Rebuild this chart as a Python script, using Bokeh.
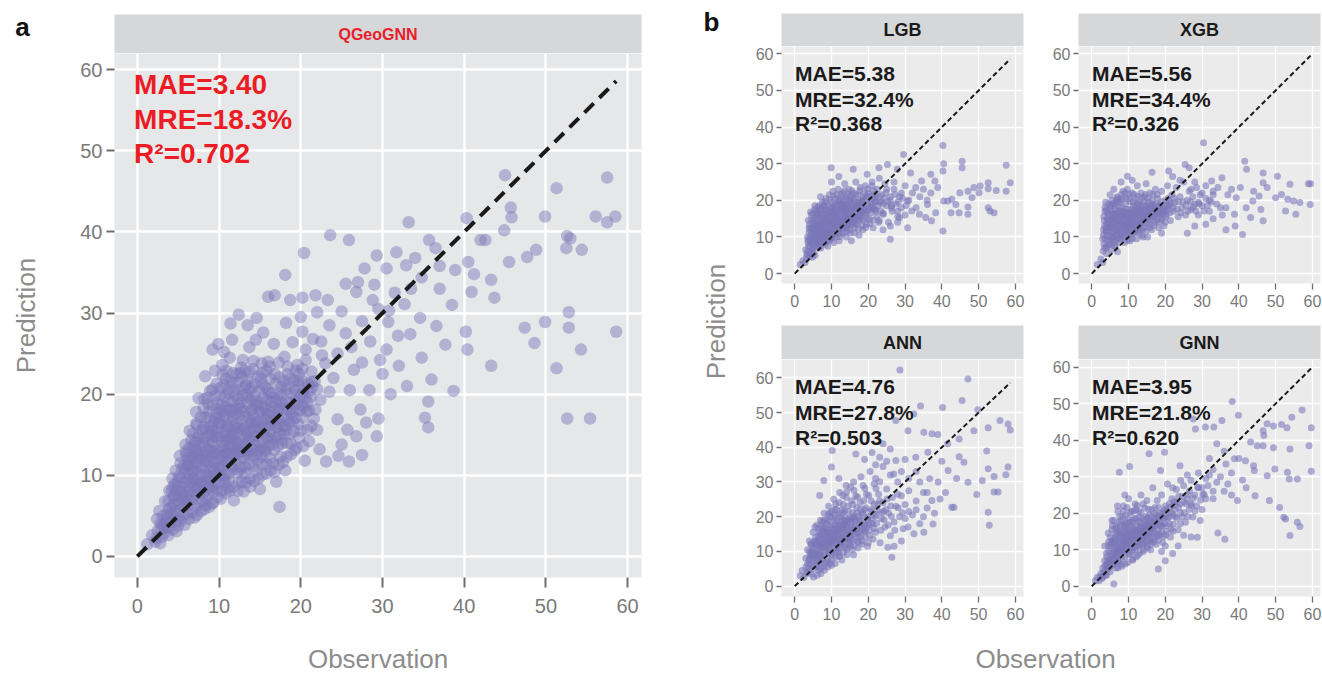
from bokeh.plotting import figure
from bokeh.layouts import row, column
from bokeh.models import Range1d
from bokeh.core.properties import value
from bokeh.embed import file_html
from bokeh.resources import INLINE
import math

# ---------------- data ----------------
models = ["QGeoGNN", "LGB", "XGB", "ANN", "GNN"]
mae = ["3.40", "5.38", "5.56", "4.76", "3.95"]
mre = ["18.3%", "32.4%", "34.4%", "27.8%", "21.8%"]
r2 = ["0.702", "0.368", "0.326", "0.503", "0.620"]
tick_values = [0, 10, 20, 30, 40, 50, 60]

# (observation, prediction) pairs
qgeo_core = [
    (1.2,1.5),(1.8,2.6),(2.2,1.8),(2.5,3.2),(3,2.4),(2.8,4.1),(3.4,3.5),(3.6,5.2),
    (3.8,6.8),(4.2,4.4),(4.5,7.5),(4.6,5.6),(4.9,9.2),(5,3.8),(5.2,6.4),(5.3,11.5),(4.4,8.6),(3.9,5.9),
    (5.6,8),(5.8,10.3),(6,12.6),(6.1,5.2),(6.3,7),(6.5,9.1),(6.6,14.3),(6.8,11),(7,4.8),(7.1,6.2),(7.2,16.4),(5.9,13.8),(6.4,15.5),
    (7.4,8.4),(7.6,12.2),(7.8,10),(8,14.1),(8.1,18.3),(8.2,5.8),(8.4,7.2),(8.5,9.3),(8.6,11.6),(8.8,16),(8.9,20.4),(9,13),(9.1,6.5),(7.5,19.5),(8.3,22.2),
    (9.3,8),(9.4,10.6),(9.6,14.8),(9.7,17.7),(9.8,12),(10,9),(10.1,19.8),(10.2,7.1),(10.3,15.9),(10.5,11.1),(10.6,13.6),(10.8,21.9),(11,17),(11,8.4),(10.4,23.6),(9.5,22.9),
    (11.2,10.2),(11.4,12.8),(11.5,15),(11.6,19),(11.8,6.9),(12,11.8),(12.1,14.1),(12.2,22.5),(12.4,9.1),(12.5,17.4),(12.6,20.6),(12.8,13),(13,8),(13,15.9),(11.3,24.5),(12.9,24.2),
    (13.2,11),(13.4,18.8),(13.5,21.8),(13.6,14.2),(13.8,9.6),(14,16.6),(14.1,12.4),(14.2,23.1),(14.4,19.9),(14.6,10.6),(14.7,14.9),(14.9,17.8),(15,8.3),(13.7,25.8),(14.5,26.7),
    (15.2,12.3),(15.3,21.2),(15.5,15.1),(15.6,18.4),(15.8,10.2),(16,24),(16.1,13.6),(16.3,16.6),(16.4,20.1),(16.6,11.5),(16.8,22.5),(17,14.7),(17,9.2),(15.4,27.6),(16.7,26.2),
    (17.3,18.2),(17.5,12.3),(17.6,20.9),(17.8,16),(18,24.6),(18.1,10.6),(18.3,14),(18.4,22.5),(18.6,18.9),(18.8,12.6),(19,16.6),(19,26.4),(17.4,6.1),
    (19.3,20.5),(19.5,13.4),(19.6,23.6),(19.8,18),(20,15.5),(20.2,21.7),(20.5,11.8),(20.6,25.5),(20.8,19),(21,14.2),(21.3,22.8),(21.6,17),(22,20.6),(22.3,13.2),(22.6,24.8),
    (5.5,7),(6.9,8.9),(7.9,6.9),(8.7,8.5),(9.9,11),(10.9,12.9),(11.9,16),(12.7,11),(13.3,13.9),(14.3,15.9),(9.2,15.5),(10,17.2),(11.1,20.5),(7,10.5),
    (6.2,11.3),(8.2,12.8),(9.5,8.8),(10.7,10),(12.3,15.2),(13.9,18),(15.9,19.3),(17.2,17),
]
qgeo_core_dense = [
    (2.3,2.2),(2.4,4.6),(2.8,1.6),(2.9,3.4),(2.7,5.6),(3.3,2.9),(3.2,5),(3.4,6.8),(3.8,2.6),(3.7,4.7),(3.9,8.1),
    (4.3,3.3),(4.2,6.1),(4.4,7.4),(4.3,9.6),(4.8,3.1),(4.7,4.9),(4.9,6.9),(4.8,8.2),(4.7,10.6),
    (5.3,4.4),(5.2,5.6),(5.4,7.8),(5.3,9.7),(5.2,12.4),(5.8,3.9),(5.7,6.1),(5.9,7.4),(5.8,9.1),(5.7,11.2),(5.9,12.9),
    (6.3,4.6),(6.2,6.3),(6.4,8.2),(6.3,10.1),(6.2,12.1),(6.4,13.4),(6.8,5.4),(6.7,6.9),(6.9,8.1),(6.8,9.6),(6.7,12.4),(6.9,13.6),(6.8,15.1),
    (7.3,5.1),(7.2,7.6),(7.4,9.3),(7.3,10.9),(7.2,13.1),(7.4,14.6),(7.3,16.2),(7.2,17.8),(7.8,5.6),(7.7,7.9),(7.9,8.8),(7.8,11.1),(7.7,13.4),(7.9,15.6),(7.8,17.2),
    (8.3,6.3),(8.2,8.6),(8.4,10.1),(8.3,11.9),(8.2,14.6),(8.4,15.6),(8.3,17.1),(8.2,19.4),(8.8,6.1),(8.7,7.6),(8.9,9.4),(8.8,12.3),(8.7,14.1),(8.9,15.1),(8.8,17.9),(8.7,18.8),
    (9.3,6.6),(9.2,9.6),(9.4,11.6),(9.3,13.6),(9.2,14.2),(9.4,16.6),(9.3,18.6),(9.2,20.6),(9.8,7.3),(9.7,8.3),(9.9,9.9),(9.8,13.1),(9.7,15.3),(9.9,16.4),(9.8,18.9),(9.7,21.3),
    (10.3,8.1),(10.2,10.3),(10.4,12.4),(10.3,13.1),(10.2,14.8),(10.4,17.9),(10.3,18.6),(10.2,20.8),(10.4,22.4),
    (10.8,7.8),(10.7,9.1),(10.9,11.6),(10.8,14.3),(10.7,15.4),(10.9,16.1),(10.8,18.4),(10.7,19.7),(10.9,22.9),
    (11.3,8.1),(11.2,9.3),(11.4,11.3),(11.3,13.6),(11.2,14.1),(11.4,16.6),(11.3,18.1),(11.2,20.1),(11.4,21.6),
    (11.8,8.6),(11.7,10.7),(11.9,12.6),(11.8,14.9),(11.7,17.3),(11.9,18.1),(11.8,20.3),(11.7,22.6),
    (12.3,8.1),(12.2,10.3),(12.4,12.9),(12.3,13.9),(12.2,16.3),(12.4,18.6),(12.3,19.4),(12.2,21.4),
    (12.8,9.2),(12.7,12.1),(12.9,14.4),(12.8,16.7),(12.7,18.2),(12.9,19.9),(12.8,22.1),(12.7,23.3),
    (13.3,9.1),(13.2,10.2),(13.4,12.6),(13.3,15.1),(13.2,17.3),(13.4,19.9),(13.3,21.1),(13.2,22.9),
    (13.8,8.6),(13.7,11.4),(13.9,13.2),(13.8,15.6),(13.7,16.9),(13.9,19.3),(13.8,20.6),(13.7,22.7),
    (14.3,9.3),(14.2,11.1),(14.4,13.6),(14.3,14.9),(14.2,17.4),(14.4,18.7),(14.3,21.3),(14.2,24.1),
    (14.8,9.6),(14.7,11.9),(14.9,13.1),(14.8,15.9),(14.7,18.6),(14.9,20.4),(14.8,22.2),
    (15.3,10.1),(15.2,11.4),(15.4,13.4),(15.3,16.3),(15.2,17.6),(15.4,19.6),(15.3,22.6),(15.2,23.8),
    (15.8,11.4),(15.7,12.9),(15.9,14.6),(15.8,16.9),(15.7,18.1),(15.9,20.6),(15.8,22.9),
    (16.3,10.6),(16.2,12.1),(16.4,14.4),(16.3,15.3),(16.2,17.9),(16.4,19.1),(16.3,21.9),(16.2,23.4),
    (16.8,10.4),(16.7,13.1),(16.9,15.9),(16.8,17.4),(16.7,19.6),(16.9,21.3),
    (17.3,11.3),(17.2,13.6),(17.4,15.1),(17.3,16.4),(17.2,19.4),(17.4,22.1),(17.3,23.9),
    (17.8,11.6),(17.7,13.9),(17.9,15.1),(17.8,18.3),(17.7,19.9),(17.9,21.6),
    (18.3,12.3),(18.2,15.6),(18.4,16.9),(18.3,18.1),(18.2,20.6),(18.4,23.4),(18.8,13.9),(18.7,15.1),(18.9,17.6),(18.8,20.1),(18.7,21.9),
    (19.3,13.1),(19.2,15.4),(19.4,17.1),(19.3,19.1),(19.2,21.6),(19.4,22.9),(19.8,14.6),(19.7,16.3),(19.9,19.6),(19.8,21.1),
    (20.3,13.6),(20.2,17.1),(20.4,18.4),(20.3,20.4),(20.2,23.1),(20.8,15.6),(20.7,17.9),(20.9,21.3),
    (21.3,16.1),(21.2,19.6),(21.4,20.9),(21.8,18.1),(21.7,21.6),
]
qgeo_core_dense2 = [
    (3.1,3.9),(3.5,4.4),(3.9,3.6),(4.1,5.3),(4.5,6.4),(4.6,8.9),(4.9,4.4),(5.1,7.4),(5.3,8.6),(5.5,10.8),(5.6,5.1),(5.9,6.6),
    (6.1,8.6),(6.2,9.6),(6.4,11.8),(6.6,7.6),(6.7,10.4),(6.9,12.1),(7.1,9.6),(7.2,11.6),(7.4,12.6),(7.1,14.1),(7.6,6.6),(7.7,9.1),
    (7.9,11.9),(7.6,14.9),(8.1,7.9),(8.2,10.6),(8.4,12.4),(8.1,15.9),(8.6,9.9),(8.7,13.1),(8.9,10.9),(8.6,17.1),(9.1,8.6),(9.2,11.1),
    (9.4,12.9),(9.1,14.9),(9.6,10.1),(9.7,12.6),(9.9,14.6),(9.6,17.1),(10.1,10.6),(10.2,11.9),(10.4,14.1),(10.1,16.4),(10.6,9.6),
    (10.7,12.6),(10.9,14.9),(10.6,17.4),(11.1,11.6),(11.2,12.6),(11.4,14.6),(11.1,15.9),(11.6,11.1),(11.7,13.6),(11.9,15.4),(11.6,17.9),
    (12.1,12.6),(12.2,13.4),(12.4,15.9),(12.1,17.6),(12.6,10.6),(12.7,13.9),(12.9,15.6),(12.6,18.9),(13.1,12.1),(13.2,13.1),(13.4,15.4),
    (13.1,17.9),(13.6,12.9),(13.7,14.6),(13.9,16.4),(13.6,19.6),(14.1,13.1),(14.2,14.6),(14.4,16.4),(14.1,18.1),(14.6,12.6),(14.7,16.6),
    (14.9,14.1),(14.6,19.1),(15.1,13.6),(15.2,15.6),(15.4,17.1),(15.1,18.9),(15.6,13.1),(15.7,15.9),(15.9,17.6),(15.6,20.9),(16.1,14.6),
    (16.2,16.1),(16.4,18.4),(16.1,20.1),(16.6,13.9),(16.7,16.9),(16.9,18.9),(17.1,15.9),(17.2,17.9),(17.4,20.1),(17.6,14.4),(17.7,18.9),
    (17.9,17.1),(18.1,16.1),(18.2,19.1),(18.4,21.1),(18.6,16.6),(18.7,18.1),(19.1,17.9),(19.2,19.9),(19.6,18.9),(19.7,21.6),(20.1,18.6),
    (20.2,20.1),(20.6,19.6),(21.1,20.4),(4.2,8.1),(5.1,9.9),(6.1,11.1),(7.1,13.1),(8.1,13.6),(9.1,16.1),(10.1,18.1),(11.1,19.1),
    (12.1,19.9),(13.1,20.9),(14.1,20.9),(15.1,21.9),(9.6,19.9),(8.6,19.6),(10.6,21.1),(11.6,21.4),(12.6,22.6),
]
qgeo_outer = [
    (45.0,47.0),(51.3,45.4),(57.5,46.7),(45.7,43.0),(49.9,41.9),(45.8,41.8),(56.1,41.9),(58.5,41.9),(57.5,41.2),(52.6,39.5),
    (53.0,39.2),(44.9,40.2),(40.3,41.7),(42.0,39.0),(42.6,39.0),(35.7,39.0),(33.2,41.2),(23.6,39.6),(25.9,39.0),(47.7,36.9),
    (48.8,37.8),(52.5,38.0),(54.4,37.8),(45.5,36.3),(43.3,34.1),(40.9,32.6),(43.7,31.9),(38.9,35.3),(40.5,36.3),(47.4,28.2),
    (48.6,26.3),(49.9,28.9),(52.8,30.1),(52.8,28.2),(54.3,25.5),(51.3,23.2),(43.3,23.5),(40.4,25.5),(40.2,27.7),(38.7,20.4),
    (52.6,17.0),(55.4,17.0),(58.6,27.7),(35.6,19.1),(35.6,15.9),(35.2,17.1),(36.0,21.8),(34.8,24.5),(37.7,26.1),(36.6,28.4),
    (34.6,29.4),(32.7,31.1),(32.9,35.9),(31.7,37.5),(30.5,35.5),(29.3,37.1),(27.8,35.5),(25.5,33.6),(26.8,32.6),(28.8,31.6),
    (30.7,28.9),(31.9,27.2),(33.4,27.4),(29.7,24.2),(28.4,20.5),(27.3,18.1),(25.7,15.6),(25.0,13.8),(24.6,12.4),(23.1,11.7),
    (25.9,11.7),(27.5,12.5),(29.3,14.8),(26.8,14.8),(24.5,16.9),(22.4,19.3),(21.3,21.5),(20.6,24.2),(20.2,27.7),(20.0,29.5),
    (20.4,37.4),(18.1,34.7),(16.8,32.2),(16.0,32.0),(14.6,29.4),(13.5,28.5),(12.4,29.8),(11.4,28.7),(9.9,26.2),(9.2,25.5),
    (11.6,26.7),(10.6,25.2),(18.7,31.6),(21.8,32.2),(23.3,31.6),(22.0,30.1),(18.2,28.8),(20.2,31.9),
    (22.5,26.5),(23.5,28.5),(24.5,25),(25.5,27.5),(26.5,23),(27.5,29),(28.5,26.5),(29.5,30.5),(30.5,25.5),(31.5,32.5),
    (24,22),(26,20.5),(23,23.8),(21.5,26.8),(25,30.2),(27,33.8),(29,33.5),(30,22.5),(32,23.5),(33.5,33),(34,36.8),(37,33),
    (38.5,31),(36.5,38),(31,20),(29.5,17),(28,16.5),(33,21),(34.8,34.4),(21,18),(22,15.6),(23.5,20.3),(19.8,22.5),(37,35.8),
    (27.5,23.9),(26.2,25.8),(30.8,30.3),(41.2,34.8),
]

lgb_core = [
    (1.5,2.5),(2.2,3.5),(2.8,3),(3.2,4.5),(3.5,6),(3.8,7.5),(4,5),(4.3,8.5),(4.5,10.5),(4.6,12.5),(4.8,6.5),(5,14),(5,16.5),
    (5.2,9),(5.4,11.5),(5.5,7.5),(5.7,13),(5.8,17),(6,10),(6.1,15),(6.3,8.5),(6.4,12),(6.6,18.5),(6.8,14),(6.9,10.8),(7,16),
    (7.1,7),(7.3,12.8),(7.5,19.5),(7.6,9.5),(7.8,15),(7.9,11.5),(8,17.5),(8.2,13.5),(8.3,8),(8.5,20.5),(8.6,16),(8.8,10.5),
    (9,14.5),(9,18.5),(9.2,12),(9.4,21.5),(9.5,9),(9.7,16.8),(9.8,13.5),(10,19.5),(10.1,11),(10.3,15.5),(10.4,22.5),(10.6,8.5),
    (10.7,17.8),(10.9,13),(11,20.5),(11.2,10),(11.4,15),(11.5,18.5),(11.7,12),(11.8,23),(12,16.5),(12.1,9),(12.3,20),(12.5,13.5),
    (12.6,17.5),(12.8,11),(13,22),(13.1,15),(13.3,19),(13.5,12.5),(13.6,24.5),(13.8,17),(14,10),(14.1,21),(14.3,14),(14.5,18),
    (14.7,23),(14.9,12),(15,16),(15.2,20),(15.4,9),(15.6,14),(15.8,18.5),(16,22),(16.2,12.5),(16.4,16),(16.6,25),(16.8,19.5),
    (17,13.5),(17.2,21.5),(17.5,10.5),(17.6,17),(17.8,23.5),(18,15),(18.3,19),(18.5,12),(18.7,21),(19,16.5),(19.2,24),(19.5,13.5),
    (19.7,19),(20,22),(20.3,15),(20.6,18),(21,25),(21.3,12.5),(21.5,20.5),(22,17),(22.4,23),(22.8,14),(23.2,19.5),(23.6,21.5),
    (24,16.5),(24.5,24.5),(25,18.5),(25.5,14),(26,21),(26.5,17),(27,23),(27.5,19),(28,15.5),(28.5,21),(29,18),
    (4,9.5),(5,12),(6,13),(6.5,9.5),(7,11),(7.5,13.5),(8,9.5),(8.5,12.5),(9,15.8),(9.5,11),(10,14),(10.5,17),(11,12),(11.5,14),
    (12,15),(12.5,19),(13,13),(13.5,16),(14,12.5),(15,14.5),(15.5,17),(16,15),(17,18),(18,17),(3.5,10),(4,13.5),(4.5,16),(6,7.5),
    (7,8),(9,7.5),(5.5,5),(4.8,4.5),(3,6.5),(10,10),(11,16.5),(12,11),(13,18),(14,16),(8,11),(9,10),(6.5,16.5),(5.5,18.5),(7,21),
    (10,25),(12,26.5),
    (3.3,5.2),(3.6,8.4),(3.9,11.2),(3.7,14.6),(4.2,6.2),(4.4,9.2),(4.1,12.1),(4.6,14.6),(4.3,16.8),
    (5.1,7.1),(5.3,10.2),(5.6,12.1),(5.2,15.1),(5.4,17.6),(5.9,8.3),(5.7,10.9),(6.2,13.6),(5.9,15.9),(6.3,18.1),
    (6.7,7.3),(6.6,11.2),(6.9,12.9),(6.8,15.6),(7.2,17.3),(7.4,9.1),(7.6,12.1),(7.3,14.3),(7.7,16.6),(7.9,18.6),
    (8.1,8.6),(8.3,10.9),(8.6,13.9),(8.4,15.1),(8.8,17.3),(8.2,19.6),(9.1,9.1),(9.3,11.6),(9.6,14.1),(9.2,16.1),(9.8,18.1),(9.5,20.1),
    (10.2,9.6),(10.4,12.6),(10.7,14.6),(10.3,16.6),(10.8,18.6),(10.5,21.1),(11.1,10.9),(11.4,13.1),(11.6,15.6),(11.2,17.6),(11.8,19.6),(11.5,21.6),
    (12.2,10.1),(12.4,12.6),(12.7,14.6),(12.3,17.1),(12.8,18.6),(12.5,21.6),(13.2,11.1),(13.4,14.1),(13.7,15.6),(13.3,17.6),(13.8,20.1),(13.5,22.6),
    (14.2,11.6),(14.4,13.1),(14.7,15.1),(14.3,17.1),(14.8,19.6),(14.5,21.6),(15.1,11.1),(15.4,13.1),(15.7,15.6),(15.3,18.1),(15.8,20.6),(15.5,22.6),
    (16.2,11.1),(16.5,13.6),(16.8,15.1),(16.3,17.6),(16.9,18.6),(16.6,21.6),(17.3,12.1),(17.5,14.6),(17.8,16.1),(17.4,19.1),(17.9,20.1),(17.7,22.6),
    (18.3,13.1),(18.6,14.6),(18.9,17.6),(18.4,19.6),(18.8,22.1),(19.3,12.6),(19.6,15.1),(19.9,17.1),(19.4,20.6),(19.8,23.1),
    (20.4,13.6),(20.7,16.6),(20.9,19.1),(20.5,21.1),(21.3,14.6),(21.6,17.6),(21.9,19.6),(21.4,22.6),(22.3,15.6),(22.6,18.6),(22.9,21.1),
    (23.4,17.1),(23.7,19.6),(24.3,20.6),(24.8,22.1),(25.4,19.6),(26.3,18.6),(27.2,21.6),(28.1,19.6),(29.3,20.6),(30.3,18.6),
    (4.1,7.6),(4.6,11.1),(5.1,13.1),(5.6,14.6),(5.3,8.6),(6.1,9.1),(6.3,11.1),(6.6,13.1),(6.1,16.6),(6.9,8.6),(7.1,12.1),(7.3,13.6),
    (7.6,15.1),(7.1,17.6),(7.9,10.1),(8.1,12.1),(8.3,14.1),(8.6,16.6),(8.1,18.6),(8.9,9.6),(9.1,11.1),(9.3,13.1),(9.6,15.1),(9.1,17.1),
    (9.9,12.1),(10.1,13.1),(10.3,14.6),(10.6,16.1),(10.1,18.1),(10.9,11.1),(11.1,13.6),(11.3,15.6),(11.6,17.1),(11.1,19.1),(11.9,12.6),
    (12.1,14.1),(12.3,16.1),(12.6,18.1),(12.1,20.1),(12.9,13.1),(13.1,14.6),(13.3,16.6),(13.6,18.6),(13.1,20.6),(13.9,14.1),(14.1,15.1),
    (14.3,16.1),(14.6,17.6),(14.1,19.1),(14.9,13.6),(15.1,17.1),(15.3,19.1),(15.6,15.6),(15.1,21.1),(16.1,14.1),(16.3,16.6),(16.6,18.1),
    (16.1,20.1),(16.9,16.1),(17.1,17.6),(17.3,19.6),(17.6,15.6),(18.1,18.1),(18.3,16.6),(18.6,20.1),(19.1,18.1),(19.3,16.1),(19.6,21.1),
    (20.1,17.6),(20.6,19.6),(21.1,18.1),(21.6,21.6),(22.1,19.6),(3.6,9.1),(3.9,12.6),(4.9,9.6),(5.6,10.1),(6.6,9.6),(7.6,10.6),
    (8.6,11.1),(4.6,5.6),(5.1,5.6),(3.9,4.6),
]
lgb_outer = [
    (40.3,35.0),(40.3,28.0),(40.5,30.0),(45.5,30.7),(45.5,28.9),(57.5,29.6),(58.6,24.8),(57.5,22.5),(54.8,22.7),(52.6,23.2),
    (50.4,23.9),(48.7,23.5),(47.1,22.5),(44.9,22.1),(42.7,20.3),(41.6,19.8),(43.8,18.9),(47.1,18.2),(44.7,16.6),(42.5,16.6),
    (47.1,16.2),(52.6,18.0),(53.1,17.1),(54.2,16.6),(52.6,24.8),(50.1,22.1),(48.2,20.7),(40.3,11.6),(40.5,19.8),(38.9,23.5),
    (38.1,25.3),(37.0,27.1),(34.5,25.3),(32.9,23.5),(31.5,27.5),(30.7,19.8),(31.8,17.1),(33.9,16.2),(35.6,15.3),(37.2,14.4),
    (38.3,16.6),(36.1,18.9),(28.5,15.3),(30.7,12.5),(26.3,18.0),(24.1,16.2),(26.0,9.4),(29.6,32.5),(25.2,29.8),(22.9,28.9),
    (15.9,28.5),(9.9,28.9),(19.7,27.1),(27.9,28.5),
    (21,24),(22,21),(23,26),(24,19),(25,23),(26,20),(27,25),(28,17),(29,22),(30,24),(31,20),(32,22),(33,18),(34,21),(35,23),
    (36,20),(37,22),(26,13),(28,14),(30,16),(24,12),(23,14.5),(22,17.5),
]

xgb_core = [
    (1.5,2.5),(2.5,4),(3,3),(3,9.5),(3.2,12),(3.4,14.5),(3.5,7),(3.6,17),(3.8,19.5),(4,5.5),(4.2,10.5),(4.4,13),(4.5,16),(4.7,8),
    (4.9,18),(5,11.5),(5.2,14.5),(5.3,6.5),(5.5,20),(5.7,9.5),(5.8,16.5),(6,12.5),(6.2,18.5),(6.4,7.5),(6.5,14),(6.7,10.5),(6.9,21),
    (7,16),(7.2,12),(7.4,8.5),(7.5,18),(7.7,14),(7.9,10),(8,20),(8.2,15.5),(8.4,11.5),(8.5,22.5),(8.7,17),(8.9,8.5),(9,13.5),
    (9.2,19),(9.4,10.5),(9.5,15.5),(9.7,23),(9.9,12),(10,17.5),(10.2,20.5),(10.4,9),(10.6,14.5),(10.8,16.5),(11,22),(11.2,11),
    (11.4,18.5),(11.6,13),(11.8,20.5),(12,15.5),(12.2,9.5),(12.4,24),(12.6,17),(12.8,12.5),(13,19.5),(13.2,14.5),(13.4,22),
    (13.6,10.5),(13.8,16.5),(14,18.5),(14.2,12.5),(14.4,21),(14.6,15),(14.8,24.5),(15,17.5),(15.2,10),(15.4,19.5),(15.6,13.5),
    (15.8,22),(16,16),(16.3,12),(16.5,20),(16.8,18),(17,14),(17.3,23),(17.6,16.5),(17.9,20.5),(18.2,12.5),(18.5,18.5),(18.8,15),
    (19,22.5),(19.3,17),(19.6,13),(20,20),(20.3,16),(20.6,24),(21,18.5),(21.4,14.5),(21.8,21.5),(22.2,17),(22.6,19.5),(23,23.5),
    (23.5,15.5),(24,21),(24.5,18),(25,25),(25.5,16),(26,20),(26.5,22.5),(27,17.5),(27.5,21),(28,19),(28.5,23.5),(29,16),
    (29.5,21.5),(30,18.5),(31,20.5),(32,17),(33,21.5),(34,19),
    (4,7.5),(5,9),(5.5,12.5),(6,10),(6.5,16.5),(7,13.5),(7.5,11),(8,14),(8.5,13),(9,16.5),(9.5,12.8),(10,15),(10.5,12),(11,14),
    (11.5,16),(12,13.5),(12.5,19),(13,16),(14,14),(15,15),(16,18.5),(17,16),(18,17),(3.8,11.5),(4.5,14),(6,15),(7,19.5),(8,17),
    (9,11),(10,11),(11,9.5),(12,11.5),(13,12),(14,10),(19,11),(20,14),(4,17.5),(5,21.5),(6,23),(8,25),(11,25.5),(7,6),
    (3.1,6.2),(3.3,8.1),(3.2,10.6),(3.5,13.1),(3.3,15.6),(3.6,18.1),(4.1,7.1),(4.3,9.1),(4.1,11.6),(4.4,14.6),(4.2,16.6),(4.6,19.1),
    (5.1,8.1),(5.4,10.1),(5.2,12.6),(5.6,15.1),(5.3,17.1),(5.7,19.1),(5.9,8.6),(6.1,11.1),(6.3,13.1),(6.1,16.1),(6.4,17.6),(6.6,20.1),
    (6.8,9.1),(6.9,11.6),(7.1,14.6),(6.8,15.6),(7.3,17.1),(7.6,19.6),(7.7,9.6),(7.9,12.6),(8.1,13.1),(7.8,16.1),(8.2,18.1),(8.4,20.6),
    (8.6,10.1),(8.8,12.1),(9.1,14.1),(8.9,16.1),(9.3,17.6),(9.4,20.6),(9.6,9.1),(9.8,11.6),(10.1,13.6),(9.9,15.6),(10.3,16.6),(10.4,19.6),
    (10.7,10.6),(10.9,13.1),(11.1,15.1),(10.8,17.6),(11.3,19.6),(11.5,21.6),(11.8,11.6),(11.9,14.1),(12.1,16.6),(11.8,18.1),(12.3,19.1),(12.6,21.1),
    (12.8,11.1),(12.9,13.6),(13.1,15.1),(12.8,17.6),(13.3,18.6),(13.6,20.6),(13.8,12.1),(13.9,14.6),(14.1,16.1),(13.8,17.6),(14.3,19.6),(14.6,21.6),
    (14.8,11.6),(14.9,13.6),(15.1,15.6),(14.8,18.6),(15.3,20.6),(15.6,16.6),(15.8,12.6),(15.9,14.6),(16.1,17.6),(16.4,19.1),(16.6,21.6),
    (16.9,13.1),(17.1,15.6),(17.4,17.6),(17.6,19.1),(17.8,21.6),(18.1,14.1),(18.3,16.1),(18.6,17.6),(18.9,19.6),(19.1,14.6),(19.4,16.6),(19.7,18.6),
    (20.1,17.1),(20.4,18.6),(20.8,20.6),(21.2,16.6),(21.6,19.1),(22.1,18.1),(22.4,20.6),(23.1,17.6),(23.6,19.6),(24.2,16.6),(24.8,19.6),(25.6,18.6),
    (26.2,17.1),(26.8,19.6),(27.6,18.1),(28.3,17.1),(29.2,19.1),(30.5,17.1),(31.5,18.6),(32.5,19.6),
    (3.6,9.6),(3.9,12.6),(4.3,15.1),(4.6,10.1),(4.9,13.1),(5.3,16.1),(5.6,11.1),(5.9,13.6),(6.3,15.1),(6.6,12.1),(6.9,14.1),(7.3,16.6),
    (7.6,12.1),(7.9,14.6),(8.3,15.6),(8.6,13.6),(8.9,15.1),(9.3,16.6),(9.6,13.6),(9.9,14.1),(10.3,15.1),(10.6,13.1),(10.9,16.1),(11.3,17.1),
    (11.6,14.6),(11.9,15.6),(12.3,17.6),(12.6,14.1),(12.9,16.1),(13.3,17.1),(13.6,14.1),(13.9,15.6),(14.3,17.1),(14.6,16.1),(14.9,17.6),
    (15.3,18.1),(15.6,15.1),(15.9,16.6),(16.3,18.6),(16.6,15.6),(16.9,17.1),(17.3,18.6),(17.6,14.6),(18.1,16.6),(18.6,18.6),(19.1,16.1),
    (19.6,17.6),(20.1,15.6),(20.6,17.6),(21.1,19.6),(5.1,18.6),(6.1,19.1),(7.1,20.6),(8.1,21.6),(9.1,22.1),(10.1,21.6),(4.1,13.6),
    (5.1,14.6),(6.1,7.6),(7.1,9.6),(8.1,10.6),(9.1,12.1),(10.1,12.6),(11.1,12.1),(12.1,12.6),(13.1,13.1),
]
xgb_outer = [
    (30.4,35.7),(41.6,30.7),(42.1,28.5),(46.6,27.5),(50.5,26.6),(53.9,24.4),(58.9,24.5),(59.5,24.5),(46.6,24.8),(47.7,23.5),
    (51.6,21.6),(53.3,20.3),(56.6,19.4),(59.4,18.9),(54.9,19.8),(50.0,20.7),(45.5,21.2),(43.8,19.8),(46.0,17.5),(43.2,15.3),
    (46.6,14.4),(52.7,17.1),(55.5,16.2),(41.0,10.7),(38.8,16.2),(36.5,18.0),(39.3,20.7),(40.4,23.5),(34.3,23.5),(35.4,26.2),
    (32.6,25.3),(26.5,28.9),(25.4,29.8),(20.9,28.0),(16.4,27.7),(9.7,26.6),
    (28,25),(30,22),(35,18),(35.5,16),(33,15),(31,13.5),(28,13),(26,11),(32,20),(36.5,12),(39,13),(37,21.5),(29,19.5),
    (31,24),(33,22.5),(27,23),(24,25.5),(22,26.5),(38,23),(44,22.5),(42,18),
]

ann_core = [
    (1.5,3),(2,4.5),(2.5,2.5),(3,5.5),(3,8),(3.5,4),(3.5,10.5),(4,6.5),(4,13),(4.5,8.5),(4.5,3.5),(5,11),(5,15.5),(5.5,6),
    (5.5,13),(5.8,9),(6,17.5),(6.2,11.5),(6.5,4.5),(6.5,14.5),(6.8,7.5),(7,10),(7,19),(7.3,12.5),(7.5,16),(7.8,5.5),(8,9),
    (8,21),(8.3,14),(8.5,11),(8.6,18),(8.8,7),(9,15.5),(9.2,23),(9.4,12.5),(9.6,9.5),(9.8,20),(10,6),(10,17),(10.3,14),
    (10.5,11),(10.6,25),(10.8,19),(11,8.5),(11.2,15.5),(11.4,22),(11.6,12.5),(11.8,17.5),(12,10),(12.2,27),(12.4,20),(12.6,14),
    (12.8,7.5),(13,16.5),(13.2,23.5),(13.4,11.5),(13.6,19),(13.8,13.5),(14,25.5),(14.2,9),(14.4,17),(14.6,21.5),(14.8,12),
    (15,15),(15.2,28.5),(15.4,19.5),(15.6,10.5),(15.8,23.5),(16,13.5),(16.3,17.5),(16.6,26),(16.9,21),(17.2,11),(17.5,15.5),
    (17.8,24),(18,19),(18.3,13),(18.6,29),(18.9,22),(19.2,16),(19.5,26.5),(19.8,11.5),(20,20),(20.4,14.5),(20.8,24.5),(21.2,18),
    (21.6,29.5),(22,15.5),(22.4,22),(22.8,26.5),(23.2,12.5),(23.6,19.5),(24,24),(24.5,17),(25,28),(25.5,21),(26,14.5),
    (26.5,25.5),(27,18.5),(27.5,23),(28,30),(28.5,20),(29,26),(29.5,16.5),(30,23.5),(31,27.5),(32,20.5),(33,24.5),(34,18),
    (35,27),(36,22.5),(20.5,33),(22,31),(24,34.5),(26,32),(18,31.5),(16,30),(14,29),(12,31),
    (5,8),(6,9.5),(6.5,12),(7,14.5),(7.5,8),(8,12),(8.5,15.5),(9,10.5),(9.5,13.5),(10,12),(10.5,16),(11,14),(11.5,10.5),(12,16),
    (12.5,12),(13,14),(13.5,18),(14,15.5),(15,12.5),(15.5,17),(16,20),(17,16.5),(18,14.5),(4,10),(5.5,17),(6,6.5),(7,5),
    (8,16.5),(9,18.5),(10,9),(11,20.5),(12,8.5),(13,21),(14,11),(16,9),(17,13),(19,18),(20,12.5),(3.5,6.5),(4.5,12),(9.5,6.5),
    (11,6.5),
    (3.2,3.6),(3.6,5.1),(3.9,7.6),(4.2,9.1),(4.1,4.6),(4.6,6.1),(4.8,10.1),(4.4,12.1),(5.2,5.1),(5.4,7.6),(5.6,9.6),(5.1,12.6),(5.7,14.1),
    (6.1,5.6),(6.3,8.1),(6.6,10.1),(6.2,13.1),(6.7,15.6),(6.4,16.6),(7.1,6.6),(7.2,8.6),(7.4,11.1),(7.6,13.6),(7.2,15.1),(7.8,17.1),(7.5,18.6),
    (8.1,6.6),(8.2,10.1),(8.4,12.6),(8.6,14.6),(8.3,16.6),(8.8,19.1),(9.1,7.6),(9.2,9.6),(9.4,11.6),(9.6,14.1),(9.3,16.1),(9.8,17.6),(9.5,21.1),
    (10.1,7.6),(10.3,10.1),(10.4,12.6),(10.7,13.6),(10.2,15.6),(10.8,17.6),(10.5,19.6),(10.9,22.1),(11.2,9.6),(11.4,11.1),(11.6,13.6),(11.3,14.6),
    (11.8,16.6),(11.5,18.6),(11.9,20.6),(12.2,8.6),(12.4,11.1),(12.6,12.6),(12.3,15.1),(12.8,17.1),(12.5,18.6),(12.9,22.1),(13.2,9.6),(13.4,12.6),
    (13.6,15.1),(13.3,17.6),(13.8,19.6),(13.5,21.6),(14.2,10.6),(14.4,13.6),(14.7,14.6),(14.3,18.6),(14.8,19.6),(14.5,23.1),(15.2,11.6),(15.4,13.6),
    (15.7,16.1),(15.3,18.1),(15.8,21.1),(15.5,24.6),(16.2,11.6),(16.5,15.1),(16.8,16.6),(16.3,19.1),(16.9,22.6),(17.3,12.6),(17.5,14.1),(17.8,17.6),
    (17.4,20.1),(17.9,22.1),(18.3,12.1),(18.6,16.1),(18.9,17.6),(18.4,21.1),(18.8,24.6),(19.3,14.1),(19.6,17.1),(19.9,19.1),(19.4,22.6),(20.3,16.1),
    (20.7,18.1),(20.9,22.1),(21.3,13.6),(21.6,16.6),(21.9,20.1),(22.3,18.1),(22.6,23.6),(23.4,16.1),(23.7,21.1),(24.3,19.1),(24.8,22.1),(25.4,17.6),
    (26.3,20.1),(27.2,16.1),(28.1,22.6),(29.3,21.1),
    (4.1,8.1),(4.6,9.6),(5.1,9.1),(5.6,11.6),(5.9,7.6),(6.1,12.6),(6.6,13.6),(6.9,9.1),(7.1,11.6),(7.6,12.1),(7.9,14.1),(8.1,11.1),
    (8.6,13.1),(8.9,15.6),(9.1,12.1),(9.6,12.6),(9.9,15.1),(10.1,13.1),(10.6,14.6),(10.9,16.6),(11.1,12.6),(11.6,15.6),(11.9,17.1),
    (12.1,13.1),(12.6,15.6),(12.9,19.1),(13.1,13.6),(13.6,16.1),(13.9,17.6),(14.1,14.1),(14.6,16.1),(14.9,18.6),(15.1,14.1),(15.6,16.1),
    (15.9,19.6),(16.1,15.6),(16.6,18.6),(17.1,15.1),(17.6,19.1),(18.1,16.6),(18.6,20.6),(19.1,15.6),(19.6,19.6),(20.1,17.6),(20.6,21.6),
    (21.1,19.6),(21.6,23.6),(22.1,20.6),(23.1,24.6),(24.1,21.6),(25.1,25.1),(26.1,23.1),(7.1,3.6),(8.1,4.6),(9.1,5.6),(6.1,3.1),(5.1,2.6),
    (12.1,24.1),(13.1,26.1),(14.1,27.1),(16.1,27.6),(17.1,25.6),(11.1,23.6),(10.1,21.6),(9.1,20.6),(8.1,19.1),(7.1,17.6),(19.1,28.1),
    (20.1,26.1),(22.1,28.1),(23.1,30.1),
]
ann_outer = [
    (28.6,62.3),(47.1,59.7),(45.5,53.5),(34.2,51.9),(40.2,51.5),(27.5,47.7),(32.4,49.6),(49.8,50.8),(52.6,45.6),(55.8,47.7),
    (58.0,46.7),(58.6,45.0),(48.7,44.8),(30.8,44.8),(35.1,44.3),(37.3,43.9),(38.9,43.7),(44.7,42.4),(41.6,41.0),(52.2,38.9),
    (44.7,37.3),(46.0,35.7),(36.2,38.6),(32.9,37.1),(52.6,33.8),(58.0,34.3),(57.4,32.1),(54.2,31.6),(47.1,29.9),(51.0,30.4),
    (49.5,26.4),(54.2,27.1),(55.3,27.1),(52.6,21.3),(52.9,17.5),(42.7,22.7),(43.3,22.7),(39.5,25.1),(37.3,24.7),(37.6,17.9),
    (35.1,15.5),(32.4,15.1),(30.8,17.0),(36.7,30.9),(41.7,33.3),(26.9,32.3),(27.5,36.2),(23.1,37.1),(16.6,38.1),(10.0,34.3),
    (10.2,39.1),(7.9,30.4),(6.8,26.1),(26.4,8.3),(25.3,11.2),
    (24,41),(26,39.5),(30,36.5),(33,33),(34,30),(36,27),(39,30),(40,36),(29,33),(31,31),(28,26.5),(30,19.5),(33,22),
    (25,36),(22,35),(19,36.5),(21,38.5),(29,13),(27,11.5),(31,21.5),(35,20),(38,21),(41,27),(44,31),
]

gnn_core = [
    (1,1.5),(1.5,2.5),(2,1.5),(2.5,3.5),(3,2.5),(3,5),(3.5,4),(3.5,7),(4,3),(4,9),(4.3,5.5),(4.5,11),(4.8,7),(5,13.5),(5,4),
    (5.3,9),(5.5,15.5),(5.6,6),(5.8,11.5),(6,18),(6,0.6),(6.2,8),(6.4,13.5),(6.6,5),(6.8,10),(7,16),(7.1,20.5),(7.3,7),(7.5,12),
    (7.7,14.5),(7.9,9),(8,18),(8.2,5.5),(8.4,11),(8.6,22),(8.8,13.5),(9,8),(9,16),(9.2,19.5),(9.4,10.5),(9.6,12.5),(9.8,6.5),
    (10,14.5),(10,24),(10.2,17.5),(10.4,9),(10.6,11.5),(10.8,20.5),(11,13.5),(11.2,7.5),(11.4,16),(11.6,10),(11.8,22.5),
    (12,18.5),(12.2,12),(12.4,14.5),(12.6,8.5),(12.8,20.5),(13,11),(13.2,16.5),(13.4,25),(13.6,13),(13.8,18.5),(14,9.5),
    (14.2,15),(14.4,21.5),(14.6,12),(14.8,17),(15,23.5),(15.2,10.5),(15.4,14),(15.6,19.5),(15.8,16),(16,12.5),(16.3,21),
    (16.6,27),(16.9,15),(17.2,18),(17.5,11.5),(17.8,23.5),(18.1,4.7),(18.1,14),(18.4,20),(18.7,16.5),(19,25),(19.3,12),
    (19.6,18.5),(20,22),(20.3,15),(20.6,28),(21,19),(21.4,13.5),(21.8,24),(22.2,17),(22.6,21),(23,26.5),(23.5,15.5),(24,22.5),
    (24.5,19),(25,27.5),(25.5,17.5),(26,24),(26.5,21),(27,29),(27.5,19),(28,25),(28.5,22),(29,31),(29.5,18),(30,27),(31,24),
    (32,30.5),(33,26),(34,28.5),(22,9),(20,7),(23.5,11),(25,14),(27,13.5),(19,9.5),
    (5,7.5),(6,9.5),(6.5,11.5),(7,8),(7.5,10),(8,12.5),(8.5,9.5),(9,11.5),(9.5,14),(10,12),(10.5,15),(11,10.5),(11.5,13),
    (12,15.5),(12.5,11),(13,14),(13.5,16),(14,13),(14.5,18),(15,15.5),(16,14.5),(16.5,17.5),(17,20),(18,17),(19,15),(4,6),
    (5.5,12.5),(6.5,14.5),(7.5,17.5),(8.5,15),(10,18.5),(11,17.5),(12,21),(13,19),(14,22.5),(4.5,14.5),(5.5,18),(7,22),
    (9,25),(3.5,11),(8,6),(16,10),(17,13),(20,11),
    (2.2,2.6),(2.7,2.1),(3.2,3.6),(3.6,5.6),(3.8,3.1),(4.2,4.6),(4.4,7.1),(4.1,8.1),(4.7,5.1),(4.9,6.6),(4.6,9.6),(5.2,5.6),(5.4,7.1),
    (5.1,10.6),(5.7,8.6),(5.6,12.1),(6.1,6.1),(6.3,7.1),(6.2,10.6),(6.6,12.6),(6.7,8.6),(6.5,15.6),(7.1,6.6),(7.3,9.1),(7.2,11.1),
    (7.6,13.1),(7.4,15.1),(7.8,10.1),(7.9,16.6),(8.1,7.6),(8.3,9.6),(8.2,13.6),(8.6,11.6),(8.7,16.6),(8.4,19.1),(9.1,9.6),(9.3,12.1),
    (9.2,14.6),(9.6,10.6),(9.7,15.6),(9.4,17.6),(10.1,8.6),(10.3,10.6),(10.2,13.1),(10.6,14.1),(10.7,16.6),(10.4,20.1),(11.1,9.6),
    (11.3,12.6),(11.2,14.6),(11.6,15.1),(11.7,18.6),(11.4,20.6),(12.1,10.6),(12.3,13.6),(12.2,16.6),(12.6,13.1),(12.7,17.6),(12.4,22.1),
    (13.1,12.6),(13.3,14.6),(13.2,17.6),(13.6,11.6),(13.7,15.1),(13.4,20.1),(14.1,11.6),(14.3,14.1),(14.2,16.6),(14.6,13.6),(14.7,19.1),
    (14.4,15.6),(15.1,12.6),(15.3,16.1),(15.2,18.6),(15.6,14.6),(15.7,17.6),(15.4,21.1),(16.1,13.1),(16.3,16.1),(16.2,19.1),(16.6,15.6),
    (16.7,12.1),(17.1,14.6),(17.3,16.6),(17.2,21.6),(17.6,17.6),(17.7,13.6),(18.1,15.6),(18.3,18.6),(18.2,21.6),(18.6,14.1),(19.1,16.6),
    (19.3,20.1),(19.6,13.6),(19.7,17.1),(20.1,19.1),(20.3,16.6),(20.6,20.6),(21.1,17.1),(21.3,21.6),(21.6,15.6),(22.1,19.6),(22.4,23.1),
    (23.1,18.6),(23.6,21.6),(24.1,17.1),(24.6,24.6),(25.1,20.1),(25.6,22.6),(26.1,19.1),(26.6,26.1),(27.1,22.1),(27.6,24.1),(28.1,20.6),
    (28.8,27.1),(29.6,23.6),(30.6,25.1),(31.6,27.6),
    (4.1,5.1),(4.6,6.1),(5.1,6.6),(5.6,7.6),(6.1,8.1),(6.6,9.1),(7.1,9.6),(7.6,10.6),(8.1,10.1),(8.6,12.6),(9.1,13.1),(9.6,11.6),
    (10.1,13.6),(10.6,12.6),(11.1,14.1),(11.6,12.1),(12.1,14.6),(12.6,15.1),(13.1,15.6),(13.6,14.1),(14.1,16.1),(14.6,15.1),(15.1,17.1),
    (15.6,16.1),(16.1,17.6),(16.6,16.6),(17.1,18.6),(17.6,19.6),(18.1,19.1),(18.6,17.6),(19.1,19.1),(19.6,20.6),(20.1,21.1),(20.6,18.6),
    (21.1,22.6),(21.6,20.1),(22.1,22.1),(22.6,19.1),(23.1,23.1),(23.6,24.6),(24.1,20.1),(25.1,23.1),(26.1,25.1),(5.1,11.6),(6.1,13.1),
    (7.1,14.1),(8.1,14.6),(9.1,17.1),(10.1,16.1),(11.1,18.1),(6.6,16.6),(7.6,19.1),(8.6,20.6),(9.6,21.6),(5.6,16.6),(4.6,12.1),
    (12.1,8.1),(14.1,10.1),(16.1,11.6),(18.1,12.6),(20.1,14.1),(22.1,15.1),(13.1,9.1),(15.1,11.1),(11.1,7.1),(9.1,6.1),(7.1,5.1),
]
gnn_outer = [
    (38.2,50.6),(39.9,46.8),(35.4,45.4),(27.6,45.8),(30.9,43.6),(28.2,43.1),(33.2,43.6),(57.2,48.3),(54.4,46.3),(47.7,44.5),
    (49.4,43.9),(51.6,44.3),(53.1,43.4),(59.7,43.4),(46.6,42.6),(46.8,41.3),(43.2,39.5),(46.6,38.5),(45.0,38.5),(49.4,37.9),
    (53.9,37.6),(59.1,38.5),(41.8,34.4),(38.8,34.9),(36.5,33.5),(44.2,31.7),(49.8,32.1),(53.2,31.2),(53.7,29.4),(55.9,29.4),
    (59.7,31.5),(47.7,30.3),(41.0,29.1),(39.6,23.5),(44.4,24.8),(48.3,23.5),(51.1,21.6),(52.2,18.9),(52.7,18.4),(55.9,17.5),
    (56.6,16.4),(53.9,13.9),(36.2,12.9),(34.3,14.6),(28.7,13.4),(30.2,25.3),(24.2,29.0),(18.7,31.7),(10.3,32.8),(7.5,31.2),
    (15.6,36.3),(19.8,36.7),
    (33,32),(35,30),(37,28),(38,31),(40,35),(36,37),(34,39),(32,35),(31,29.5),(29,27),(27,22.5),(30,21),(33,24),(36,26),
    (26,30.5),(24,33),(22,27),(38,25),(42,27),(44,33),
]

# ---------------- style ----------------
FONT = "Liberation Sans"
PURPLE = "#7b77b9"
STRIP = "#d6d7d9"
BG_MAIN = "#e6e7e9"
BG_SMALL = "#ebebec"
TICK_C = "#6e6e6e"
LAB_C = "#7a7a7a"
TITLE_C = "#8c8c8c"


def text_fig(width, height):
    f = figure(width=width, height=height, x_range=Range1d(0, width), y_range=Range1d(0, height),
               x_axis_type=None, y_axis_type=None, toolbar_location=None, output_backend="svg",
               title=None, min_border=0)
    f.outline_line_color = None
    return f


def header(name, width, height, bl, br, bt, size, color):
    h = figure(width=width, height=height, x_range=Range1d(0, 1), y_range=Range1d(0, 1),
               x_axis_type=None, y_axis_type=None, toolbar_location=None,
               output_backend="svg", title=None,
               min_border_left=bl, min_border_right=br, min_border_top=bt, min_border_bottom=0)
    h.background_fill_color = STRIP
    h.border_fill_color = "white"
    h.outline_line_color = None
    h.text(x=[0.5], y=[0.5], text=[name], text_align="center", text_baseline="middle",
           text_font=value(FONT), text_font_style="bold", text_font_size=size, text_color=color)
    return h


def panel(points, idx, width, height, bl, br, bt, bb, xr, yr, big, text_x, text_y):
    obs = [a for a, b in points]
    pred = [b for a, b in points]
    p = figure(width=width, height=height, x_range=Range1d(*xr), y_range=Range1d(*yr),
               toolbar_location=None, output_backend="svg", title=None,
               min_border_left=bl, min_border_right=br, min_border_top=bt, min_border_bottom=bb)
    p.background_fill_color = BG_MAIN if big else BG_SMALL
    p.border_fill_color = "white"
    p.outline_line_color = None
    p.xaxis.ticker = tick_values
    p.yaxis.ticker = tick_values
    p.grid.grid_line_color = "white"
    p.grid.grid_line_width = 2.4 if big else 1.3
    p.axis.axis_line_color = None
    p.axis.minor_tick_line_color = None
    p.axis.major_tick_line_color = TICK_C
    p.axis.major_tick_line_width = 2 if big else 1.3
    p.axis.major_tick_in = 0
    p.xaxis.major_tick_out = 10 if big else 6
    p.yaxis.major_tick_out = 8 if big else 5
    p.axis.major_label_text_font = FONT
    p.axis.major_label_text_color = LAB_C
    p.axis.major_label_text_font_size = "20px" if big else "16px"
    p.xaxis.major_label_standoff = 11 if big else 5
    p.yaxis.major_label_standoff = 4 if big else 3

    p.scatter(obs, pred, size=12.5 if big else 7, fill_color=PURPLE,
              fill_alpha=0.47 if big else 0.58, line_color=None)
    top = max(obs)
    p.line([0, top], [0, top], line_color="#1a1a1a", line_width=4 if big else 2,
           line_dash="13 8" if big else "5 3")
    texts = ["MAE=" + mae[idx], "MRE=" + mre[idx], "R\u00b2=" + r2[idx]]
    p.text(x=[text_x] * 3, y=text_y, text=texts, text_align="left", text_baseline="middle",
           text_font=value(FONT), text_font_style="bold",
           text_font_size="28px" if big else "21px",
           text_color="#ec1c24" if big else "#1a1a1a")
    return p


# ---------------- panel a ----------------
afig = text_fig(114, 53)
afig.text(x=[22], y=[36], text=["a"], text_align="center", text_baseline="middle",
          text_font=value(FONT), text_font_style="bold", text_font_size="26px", text_color="#111111")
ha = header(models[0], 576, 53, 0, 49, 14, "16px", "#e8202a")
pa = panel(qgeo_core + qgeo_core_dense + qgeo_core_dense2 + qgeo_outer, 0, 690, 623, 114, 49, 0, 98,
           (-2.8, 61.7), (-2.6, 62.0), True, -0.4, [58.2, 53.9, 49.7])
pa.xaxis.axis_label = "Observation"
pa.yaxis.axis_label = "Prediction"
pa.axis.axis_label_text_font = FONT
pa.axis.axis_label_text_font_style = "normal"
pa.axis.axis_label_text_font_size = "26px"
pa.axis.axis_label_text_color = TITLE_C
pa.xaxis.axis_label_standoff = 28
pa.yaxis.axis_label_standoff = 36
left = column(row(afig, ha), pa)

# ---------------- panel b ----------------
ylab = text_fig(60, 676)
ylab.text(x=[21], y=[655], text=["b"], text_align="center", text_baseline="middle",
          text_font=value(FONT), text_font_style="bold", text_font_size="26px", text_color="#111111")
ylab.text(x=[25], y=[355], text=["Prediction"], angle=math.pi / 2, text_align="center",
          text_baseline="middle", text_font=value(FONT), text_font_size="26px", text_color=TITLE_C)

h1 = header(models[1], 297, 46, 31, 24, 13, "18px", "#1a1a1a")
h2 = header(models[2], 275, 46, 31, 2, 13, "18px", "#1a1a1a")
p1 = panel(lgb_core + lgb_outer, 1, 297, 268, 31, 24, 0, 31, (-3.6, 62.2), (-2.7, 62.0), False, 0.1, [54.7, 47.6, 41.0])
p2 = panel(xgb_core + xgb_outer, 2, 275, 268, 31, 2, 0, 31, (-3.6, 62.2), (-2.7, 62.0), False, 0.1, [54.7, 47.6, 41.0])
h3 = header(models[3], 297, 45, 31, 24, 11, "18px", "#1a1a1a")
h4 = header(models[4], 275, 45, 31, 2, 11, "18px", "#1a1a1a")
p3 = panel(ann_core + ann_outer, 3, 297, 271, 31, 24, 0, 34, (-3.6, 62.2), (-3.0, 65.3), False, 0.1, [57.6, 50.0, 42.8])
p4 = panel(gnn_core + gnn_outer, 4, 275, 271, 31, 2, 0, 34, (-3.6, 62.2), (-2.8, 62.1), False, 0.1, [54.7, 47.6, 40.8])

xlab = text_fig(572, 46)
xlab.text(x=[295], y=[18], text=["Observation"], text_align="center", text_baseline="middle",
          text_font=value(FONT), text_font_size="26px", text_color=TITLE_C)

grid = column(row(h1, h2), row(p1, p2), row(h3, h4), row(p3, p4), xlab)
layout = row(left, ylab, grid)

open("out.html", "w").write(file_html(layout, INLINE))
